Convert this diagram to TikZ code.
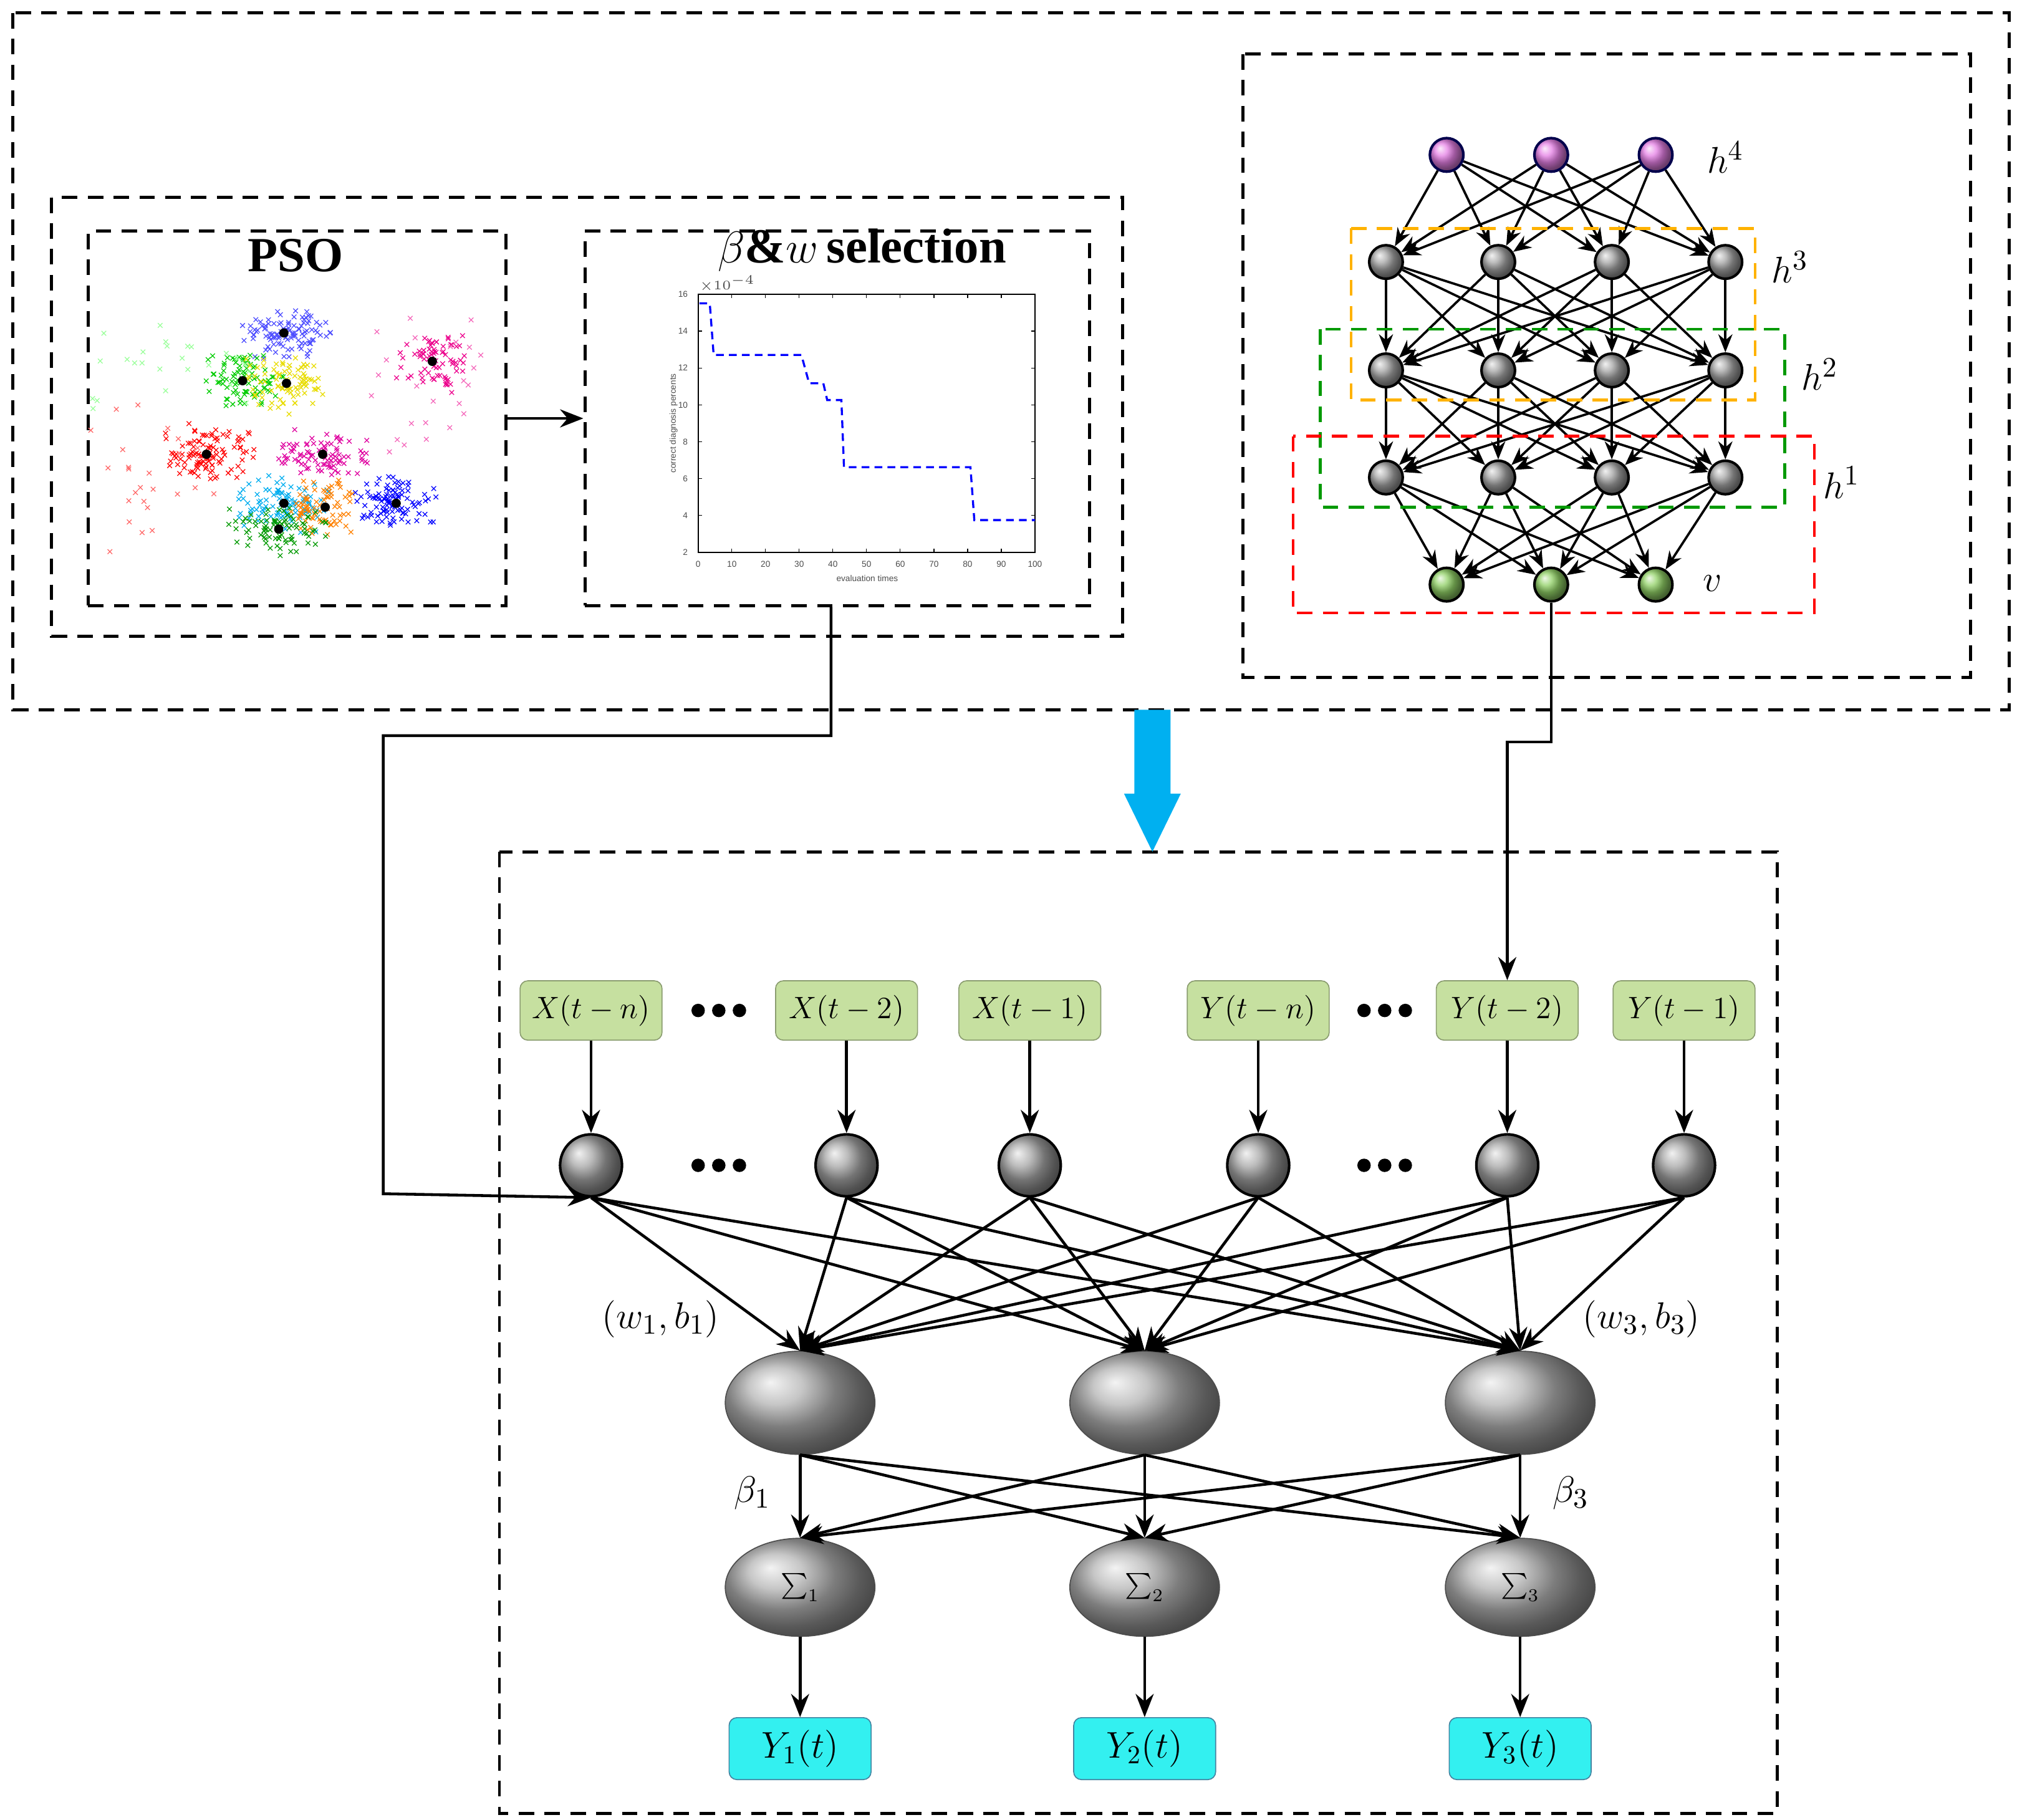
\documentclass[tikz,border=0pt]{standalone}
\usepackage{fontspec}
\setmainfont{Liberation Serif}
\newfontfamily\sansf{Liberation Sans}
\usetikzlibrary{arrows.meta,shapes.geometric}
\definecolor{ingreen}{HTML}{C6E0A0}
\definecolor{outcyan}{HTML}{33F0F0}
\definecolor{barrow}{HTML}{00B0F0}
\begin{document}
\begin{tikzpicture}[x=0.5pt,y=-0.5pt,
  box/.style={draw,dashed,line width=1.2pt,dash pattern=on 6pt off 4pt},
  cbox/.style={draw,line width=1.1pt,dash pattern=on 6pt off 4pt},
  arr/.style={-{Stealth[length=9pt,width=7pt]},line width=1.1pt},
  ball/.style={circle,minimum size=#1,inner sep=0pt,ball color=gray!70,draw=black,line width=1pt},
  ball/.default=24pt,
  pball/.style={circle,minimum size=13pt,inner sep=0pt,ball color=violet!40!magenta!50,draw=blue!30!black,line width=1pt},
  gball/.style={circle,minimum size=13pt,inner sep=0pt,ball color=green!60!yellow!70!black!60,draw=black,line width=1pt},
  dball/.style={circle,minimum size=13pt,inner sep=0pt,ball color=gray!70,draw=black,line width=1pt},
  inbox/.style={rounded corners=3pt,fill=ingreen,draw=ingreen!70!black,minimum width=55pt,minimum height=23pt,font=\fontsize{13}{13}\selectfont},
  outbox/.style={rounded corners=3pt,fill=outcyan,draw=cyan!60!black,minimum width=55pt,minimum height=24pt,font=\fontsize{14}{14}\selectfont},
  hid/.style={ellipse,ball color=gray!60,draw=black!70,minimum width=58pt,minimum height=40pt,inner sep=0pt},
  sm/.style={ellipse,ball color=gray!60,draw=black!70,minimum width=58pt,minimum height=38pt,inner sep=0pt,font=\fontsize{14}{14}\selectfont}
]
\useasboundingbox (0,0) rectangle (1563,1410);
% boxes
\draw[box] (10,10) rectangle (1557,550);
\draw[box] (40,153) rectangle (870,493);
\node[box,minimum width=162pt,minimum height=145pt,anchor=north west] (pso) at (67,178) {};
\node[box,minimum width=195.5pt,minimum height=145pt,anchor=north west] (sel) at (452,178) {};
\draw[box] (963,42) rectangle (1527,525);
\draw[box] (387,660) rectangle (1377,1405);
\node[font=\fontsize{19}{19}\selectfont\bfseries] at (229,198) {PSO};
\node[font=\fontsize{19}{19}\selectfont] at (668,194) {$\beta$\textbf{\&}$w$\,\textbf{selection}};
\draw[arr] (pso.east) -- (sel.west);
% scatter
\pgfmathsetseed{7}
\foreach \cx/\cy/\col/\n/\sx/\sy in {220/258/blue!70/110/22/12, 335/280/magenta/80/18/14, 188/295/green!80!black/90/20/14, 222/297/yellow!80!olive/90/20/14, 160/352/red/110/22/14, 250/352/purple!50!magenta/90/22/12, 220/390/cyan/100/22/14, 252/393/orange/80/16/14, 307/390/blue/100/20/13, 216/410/green!60!black/90/24/12, 120/280/green!40/25/45/25, 330/300/magenta!60/25/35/35, 110/370/red!60/25/40/35}{
  \foreach \i in {1,...,\n}{
    \pgfmathsetmacro{\px}{\cx+\sx*(rand+rand)*0.9}
    \pgfmathsetmacro{\py}{\cy+\sy*(rand+rand)*0.9}
    \draw[\col,line width=0.3pt] (\px-1.8,\py-1.8)--(\px+1.8,\py+1.8) (\px-1.8,\py+1.8)--(\px+1.8,\py-1.8);
  }
}
\foreach \cx/\cy in {220/258,335/280,188/295,222/297,160/352,250/352,220/390,252/393,307/390,216/410}
  \fill (\cx,\cy) circle (1.8pt);
% chart
\draw[line width=0.4pt] (541,228) rectangle (802,428);
\foreach \v in {0,10,...,100}{
  \draw[line width=0.3pt] (541+\v*2.61,428)--(541+\v*2.61,425) (541+\v*2.61,228)--(541+\v*2.61,231);
  \node[font=\sansf\fontsize{3.3}{4}\selectfont,text=black!70] at (541+\v*2.61,437) {\v};}
\foreach \v in {2,4,...,16}{
  \draw[line width=0.3pt] (541,428-\v*14.2857+28.57)--(544,428-\v*14.2857+28.57) (802,428-\v*14.2857+28.57)--(799,428-\v*14.2857+28.57);
  \node[font=\sansf\fontsize{3.3}{4}\selectfont,text=black!70,anchor=east] at (540,428-\v*14.2857+28.57) {\v};}
\node[font=\sansf\fontsize{3}{3}\selectfont,text=black!70,anchor=south west,inner sep=0.3pt] at (541,227) {$\times10^{-4}$};
\node[font=\sansf\fontsize{3.3}{4}\selectfont,text=black!70] at (672,448) {evaluation times};
\node[font=\sansf\fontsize{3.3}{4}\selectfont,text=black!70,rotate=90] at (522,328) {correct diagnosis percents};
\draw[blue,line width=0.8pt,dash pattern=on 3pt off 2pt] (542,235)--(550,235)--(553,275)--(621,275)--(627,297)--(638,297)--(641,310)--(652,310)--(654,362)--(752,362)--(755,403)--(802,403);
% DBN
\foreach \x/\k in {1121/1,1202/2,1283/3} \node[pball] (a\k) at (\x,120) {};
\foreach \x/\k in {1074/1,1161/2,1249/3,1337/4}{
  \node[dball] (b\k) at (\x,203) {};
  \node[dball] (c\k) at (\x,287) {};
  \node[dball] (d\k) at (\x,370) {};}
\foreach \x/\k in {1121/1,1202/2,1283/3} \node[gball] (e\k) at (\x,453) {};
\foreach \i in {1,2,3} \foreach \j in {1,2,3,4} \draw[arr,-{Stealth[length=7pt,width=5.5pt]},line width=0.9pt] (a\i) -- (b\j);
\foreach \i in {1,...,4} \foreach \j in {1,...,4}{
  \draw[arr,-{Stealth[length=7pt,width=5.5pt]},line width=0.9pt] (b\i) -- (c\j);
  \draw[arr,-{Stealth[length=7pt,width=5.5pt]},line width=0.9pt] (c\i) -- (d\j);}
\foreach \i in {1,...,4} \foreach \j in {1,2,3} \draw[arr,-{Stealth[length=7pt,width=5.5pt]},line width=0.9pt] (d\i) -- (e\j);
\draw[cbox,color=orange!60!yellow] (1047,177) rectangle (1360,310);
\draw[cbox,color=green!60!black] (1023,255) rectangle (1383,393);
\draw[cbox,color=red] (1002,338) rectangle (1406,475);
\foreach \t/\x/\y in {h^4/1337/122,h^3/1387/207,h^2/1410/290,h^1/1427/374,v/1327/452}
  \node[font=\fontsize{15}{15}\selectfont] at (\x,\y) {$\t$};
% blue arrow
\fill[barrow] (879,550) -- (907,550) -- (907,615) -- (915,615) -- (893,660) -- (871,615) -- (879,615) -- cycle;
% inputs
\foreach \x/\t/\k in {458/X(t-n)/1,656/X(t-2)/2,798/X(t-1)/3,975/Y(t-n)/4,1168/Y(t-2)/5,1305/Y(t-1)/6}{
  \node[inbox] (in\k) at (\x,783) {$\t$};
  \node[ball] (s\k) at (\x,903) {};
  \draw[arr] (in\k) -- (s\k);}
\foreach \x in {557,1073}{
  \foreach \d in {-16,0,16}{
    \fill (\x+\d,783) circle (2.6pt);
    \fill (\x+\d,903) circle (2.6pt);}}
\foreach \x/\k in {620/1,887/2,1178/3}{
  \node[hid] (h\k) at (\x,1087) {};
  \node[sm] (m\k) at (\x,1230) {$\sum_{\scriptscriptstyle\k}$};
  \node[outbox] (o\k) at (\x,1355) {$Y_{\k}(t)$};
  \draw[arr] (m\k) -- (o\k);}
\foreach \i in {1,...,6} \foreach \j in {1,2,3} \draw[arr] (s\i.south) -- (h\j.north);
\foreach \i in {1,2,3} \foreach \j in {1,2,3} \draw[arr] (h\i.south) -- (m\j.north);
\node[font=\fontsize{15}{15}\selectfont] at (512,1022) {$(w_1,b_1)$};
\node[font=\fontsize{15}{15}\selectfont] at (1272,1022) {$(w_3,b_3)$};
\node[font=\fontsize{15}{15}\selectfont] at (583,1157) {$\beta_1$};
\node[font=\fontsize{15}{15}\selectfont] at (1217,1157) {$\beta_3$};
% long connectors
\coordinate (p1) at (644,570); \coordinate (p2) at (297,570); \coordinate (p3) at (297,925);
\draw[arr] (sel.south -| p1) -- (p1) -- (p2) -- (p3) -- (s1.south);
\coordinate (q1) at (1202,575); \coordinate (q2) at (1168,575);
\draw[arr] (e2) -- (q1) -- (q2) -- (in5.north);
\end{tikzpicture}
\end{document}
